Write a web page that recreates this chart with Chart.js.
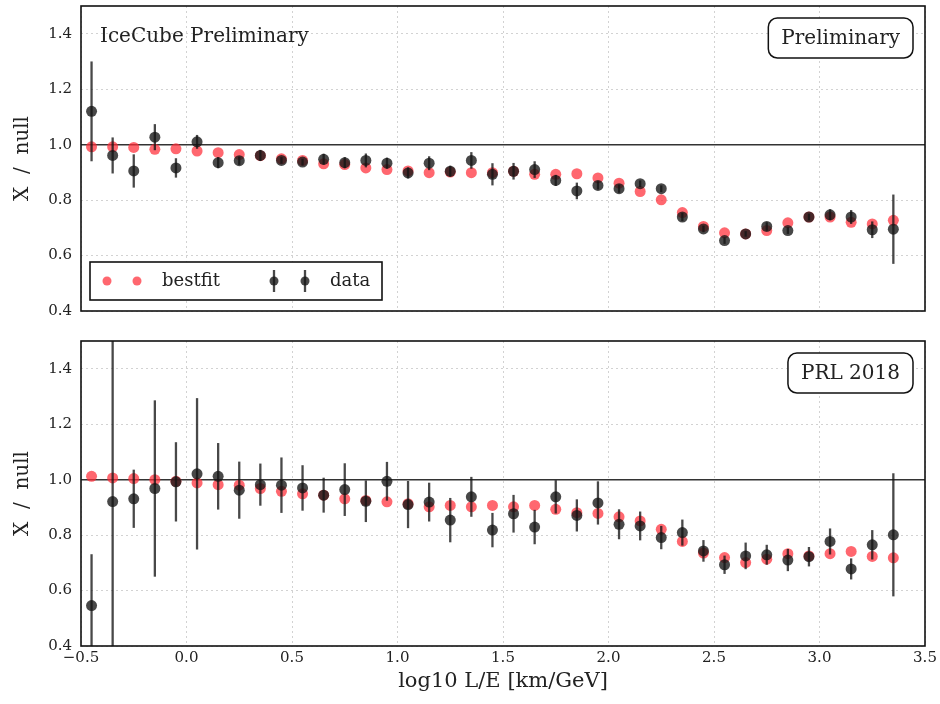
<!DOCTYPE html>
<html>
<head>
<meta charset="utf-8">
<title>X / null vs log10 L/E</title>
<script src="https://cdn.jsdelivr.net/npm/chart.js@4.4.1/dist/chart.umd.min.js"></script>
<style>
  body { margin: 0; background: #fff; }
  #wrap { position: relative; width: 940px; height: 704px; }
  #wrap canvas { position: absolute; left: 0; }
  #prelimChart { top: 0; }
  #prlChart { top: 330px; }
</style>
</head>
<body>
<div id="wrap">
  <canvas id="prelimChart" width="940" height="330"></canvas>
  <canvas id="prlChart" width="940" height="374"></canvas>
</div>
<script>
// bin centres in log10 L/E [km/GeV]
const binCenters = [-0.45, -0.35, -0.25, -0.15, -0.05, 0.05, 0.15, 0.25, 0.35, 0.45,
  0.55, 0.65, 0.75, 0.85, 0.95, 1.05, 1.15, 1.25, 1.35, 1.45,
  1.55, 1.65, 1.75, 1.85, 1.95, 2.05, 2.15, 2.25, 2.35, 2.45,
  2.55, 2.65, 2.75, 2.85, 2.95, 3.05, 3.15, 3.25, 3.35];

// upper panel: preliminary sample
const prelimBestfit = [0.992, 0.992, 0.99, 0.983, 0.985, 0.977, 0.971, 0.964, 0.96, 0.949,
  0.943, 0.931, 0.928, 0.916, 0.91, 0.905, 0.899, 0.901, 0.899, 0.899,
  0.904, 0.893, 0.893, 0.895, 0.88, 0.861, 0.831, 0.801, 0.755, 0.705,
  0.682, 0.678, 0.69, 0.718, 0.739, 0.739, 0.72, 0.714, 0.727];
const prelimData = [1.12, 0.961, 0.905, 1.027, 0.916, 1.01, 0.935, 0.942, 0.961, 0.943,
  0.937, 0.947, 0.935, 0.943, 0.933, 0.898, 0.933, 0.904, 0.943, 0.893,
  0.904, 0.91, 0.871, 0.833, 0.853, 0.841, 0.859, 0.841, 0.739, 0.696,
  0.654, 0.678, 0.705, 0.69, 0.739, 0.747, 0.739, 0.693, 0.695];
const prelimErr = [0.18, 0.065, 0.06, 0.047, 0.035, 0.025, 0.02, 0.015, 0.02, 0.012,
  0.012, 0.02, 0.02, 0.025, 0.02, 0.02, 0.025, 0.02, 0.03, 0.04,
  0.03, 0.03, 0.02, 0.03, 0.015, 0.015, 0.012, 0.012, 0.015, 0.012,
  0.012, 0.01, 0.015, 0.012, 0.012, 0.02, 0.025, 0.03, 0.125];

// lower panel: PRL 2018 sample
const prlBestfit = [1.012, 1.006, 1.004, 1.0, 0.994, 0.988, 0.982, 0.98, 0.968, 0.958,
  0.949, 0.944, 0.931, 0.925, 0.92, 0.913, 0.902, 0.907, 0.902, 0.907,
  0.902, 0.907, 0.893, 0.881, 0.878, 0.866, 0.851, 0.821, 0.777, 0.735,
  0.719, 0.701, 0.713, 0.733, 0.725, 0.733, 0.741, 0.723, 0.718];
const prlData = [0.546, 0.921, 0.931, 0.968, 0.992, 1.021, 1.012, 0.962, 0.982, 0.98,
  0.97, 0.944, 0.964, 0.922, 0.994, 0.91, 0.919, 0.854, 0.938, 0.818,
  0.877, 0.829, 0.938, 0.871, 0.916, 0.839, 0.833, 0.791, 0.809, 0.743,
  0.693, 0.725, 0.729, 0.71, 0.722, 0.777, 0.678, 0.765, 0.801];
const prlErr = [0.185, 0.6, 0.105, 0.318, 0.143, 0.273, 0.12, 0.103, 0.076, 0.1,
  0.082, 0.063, 0.095, 0.075, 0.07, 0.085, 0.07, 0.08, 0.072, 0.062,
  0.068, 0.062, 0.06, 0.058, 0.078, 0.054, 0.052, 0.042, 0.047, 0.039,
  0.033, 0.048, 0.036, 0.04, 0.035, 0.047, 0.038, 0.053, 0.222];

const xTicks = [-0.5, 0.0, 0.5, 1.0, 1.5, 2.0, 2.5, 3.0, 3.5];
const yTicks = [0.4, 0.6, 0.8, 1.0, 1.2, 1.4];
const xRange = [-0.5, 3.5];
const yRange = [0.4, 1.5];
const nullLevel = 1.0;

const SERIF = '"DejaVu Serif", "Liberation Serif", serif';
const RED = 'rgba(255, 45, 55, 0.72)';
const BLACK = 'rgba(20, 20, 20, 0.78)';

function fmtTick(v) {
  return v.toFixed(1).replace('-', '\u2212');
}

// vertical error bars under the data markers
const errorBars = {
  id: 'errorBars',
  beforeDatasetDraw(chart, args, opts) {
    if (args.index !== 0 || !opts.errors) return;
    const { ctx, chartArea: a, scales } = chart;
    const pts = chart.data.datasets[0].data;
    ctx.save();
    ctx.beginPath();
    ctx.rect(a.left, a.top, a.right - a.left, a.bottom - a.top);
    ctx.clip();
    ctx.strokeStyle = BLACK;
    ctx.lineWidth = 2.3;
    pts.forEach((p, i) => {
      const px = scales.x.getPixelForValue(p.x);
      ctx.beginPath();
      ctx.moveTo(px, scales.y.getPixelForValue(p.y + opts.errors[i]));
      ctx.lineTo(px, scales.y.getPixelForValue(p.y - opts.errors[i]));
      ctx.stroke();
    });
    ctx.restore();
  }
};

// black frame, text labels and the legend box
const decorations = {
  id: 'decorations',
  afterDraw(chart, args, opts) {
    const { ctx, chartArea: a } = chart;
    ctx.save();
    ctx.strokeStyle = '#111';
    ctx.lineWidth = 1.6;
    ctx.strokeRect(a.left, a.top, a.right - a.left, a.bottom - a.top);

    ctx.fillStyle = '#222';
    ctx.textBaseline = 'middle';
    if (opts.cornerText) {
      ctx.font = '20px ' + SERIF;
      ctx.textAlign = 'left';
      ctx.fillText(opts.cornerText, a.left + 19, a.top + 31);
    }
    if (opts.boxText) {
      ctx.font = '20px ' + SERIF;
      const tw = ctx.measureText(opts.boxText).width;
      const w = tw + 26, h = 40;
      const x = a.right - 12 - w, y = a.top + 12;
      ctx.beginPath();
      ctx.roundRect(x, y, w, h, 9);
      ctx.fillStyle = '#fff';
      ctx.fill();
      ctx.lineWidth = 1.5;
      ctx.strokeStyle = '#111';
      ctx.stroke();
      ctx.fillStyle = '#222';
      ctx.textAlign = 'center';
      ctx.fillText(opts.boxText, x + w / 2, y + h / 2 + 1);
    }
    if (opts.legend) {
      const ds = chart.data.datasets;
      const w = 292, h = 38;
      const x = a.left + 9, y = a.bottom - 11 - h;
      const cy = y + h / 2;
      ctx.fillStyle = '#fff';
      ctx.fillRect(x, y, w, h);
      ctx.lineWidth = 1.6;
      ctx.strokeStyle = '#111';
      ctx.strokeRect(x, y, w, h);
      // bestfit entry
      ctx.fillStyle = ds[1].backgroundColor;
      [17, 47].forEach(dx => {
        ctx.beginPath();
        ctx.arc(x + dx, cy, 4.5, 0, Math.PI * 2);
        ctx.fill();
      });
      ctx.fillStyle = '#222';
      ctx.font = '18px ' + SERIF;
      ctx.textAlign = 'left';
      ctx.fillText(ds[1].label, x + 72, cy);
      // data entry
      [184, 215].forEach(dx => {
        ctx.strokeStyle = BLACK;
        ctx.lineWidth = 2.3;
        ctx.beginPath();
        ctx.moveTo(x + dx, cy - 11);
        ctx.lineTo(x + dx, cy + 11);
        ctx.stroke();
        ctx.fillStyle = ds[0].backgroundColor;
        ctx.beginPath();
        ctx.arc(x + dx, cy, 4.5, 0, Math.PI * 2);
        ctx.fill();
      });
      ctx.fillStyle = '#222';
      ctx.fillText(ds[0].label, x + 240, cy);
    }
    ctx.restore();
  }
};

function makePanel(canvasId, bestfit, data, errs, cfg) {
  const toPoints = vals => binCenters.map((x, i) => ({ x: x, y: vals[i] }));
  return new Chart(document.getElementById(canvasId), {
    type: 'scatter',
    data: {
      datasets: [
        {
          label: 'data',
          data: toPoints(data),
          backgroundColor: BLACK,
          borderWidth: 0,
          pointRadius: 5.5
        },
        {
          label: 'bestfit',
          data: toPoints(bestfit),
          backgroundColor: RED,
          borderWidth: 0,
          pointRadius: 5.5
        },
        {
          type: 'line',
          label: 'null',
          data: xRange.map(x => ({ x: x, y: nullLevel })),
          borderColor: '#333',
          borderWidth: 1.5,
          pointRadius: 0
        }
      ]
    },
    options: {
      responsive: false,
      animation: false,
      events: [],
      layout: { padding: { left: 0, right: 15, top: cfg.padTop, bottom: 0 } },
      plugins: {
        legend: { display: false },
        tooltip: { enabled: false },
        errorBars: { errors: errs },
        decorations: cfg.decor
      },
      scales: {
        x: {
          type: 'linear',
          min: xRange[0],
          max: xRange[1],
          afterBuildTicks: s => { s.ticks = xTicks.map(v => ({ value: v })); },
          afterFit: s => {
            s.height = cfg.xHeight;
            s.paddingLeft = 0;
            s.paddingRight = 0;
          },
          grid: { color: '#d2d2d2', lineWidth: 1, drawTicks: false },
          border: { display: false, dash: [2, 3] },
          ticks: {
            display: cfg.showX,
            padding: 3,
            color: '#222',
            font: { family: SERIF, size: 15 },
            callback: v => fmtTick(v)
          },
          title: {
            display: cfg.showX,
            text: 'log10 L/E [km/GeV]',
            color: '#222',
            font: { family: SERIF, size: 21 },
            padding: { top: 0, bottom: 10 }
          }
        },
        y: {
          min: yRange[0],
          max: yRange[1],
          afterBuildTicks: s => { s.ticks = yTicks.map(v => ({ value: v })); },
          afterFit: s => {
            s.width = 81;
            s.paddingTop = 0;
            s.paddingBottom = 0;
          },
          grid: { color: '#d2d2d2', lineWidth: 1, drawTicks: false },
          border: { display: false, dash: [2, 3] },
          ticks: {
            padding: 9,
            color: '#222',
            font: { family: SERIF, size: 15 },
            callback: v => fmtTick(v)
          },
          title: {
            display: true,
            text: 'X  /  null',
            color: '#222',
            font: { family: SERIF, size: 20 },
            padding: { top: 11, bottom: 0 }
          }
        }
      }
    },
    plugins: [errorBars, decorations]
  });
}

makePanel('prelimChart', prelimBestfit, prelimData, prelimErr, {
  padTop: 6,
  xHeight: 19,
  showX: false,
  decor: { cornerText: 'IceCube Preliminary', boxText: 'Preliminary', legend: true }
});

makePanel('prlChart', prlBestfit, prlData, prlErr, {
  padTop: 11,
  xHeight: 58,
  showX: true,
  decor: { boxText: 'PRL 2018', legend: false }
});
</script>
</body>
</html>
